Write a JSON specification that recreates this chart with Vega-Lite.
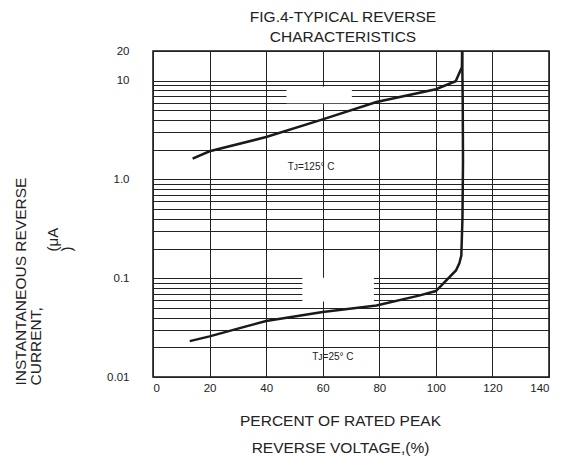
{
  "$schema": "https://vega.github.io/schema/vega-lite/v6.json",
  "width": 396,
  "height": 326,
  "autosize": "none",
  "padding": {"left": 153, "top": 51, "right": 17, "bottom": 79},
  "background": "white",
  "config": {
    "font": "Liberation Sans",
    "view": {"stroke": "#111", "strokeWidth": 1.5},
    "axis": {
      "labelFont": "Liberation Sans",
      "labelFontSize": 11.5,
      "labelColor": "#222",
      "titleFont": "Liberation Sans",
      "titleFontSize": 15.5,
      "titleFontWeight": "normal",
      "titleColor": "#222",
      "gridColor": "#222",
      "gridWidth": 1,
      "gridOpacity": 1,
      "domain": false,
      "ticks": false,
      "labelOverlap": false,
      "labelBound": false
    }
  },
  "title": {
    "text": ["FIG.4-TYPICAL REVERSE", "CHARACTERISTICS"],
    "font": "Liberation Sans",
    "fontSize": 15.5,
    "fontWeight": "normal",
    "color": "#222",
    "lineHeight": 20,
    "anchor": "middle",
    "dx": -8,
    "offset": 0
  },
  "datasets": {
    "gaps": [
      {"pct": 47.2, "pct2": 70.3, "ua": 5.9, "ua2": 8.7},
      {"pct": 52.8, "pct2": 78.1, "ua": 0.058, "ua2": 0.101}
    ],
    "curves": [
      {"tj": "125", "k": 1, "pct": 14, "ua": 1.63},
      {"tj": "125", "k": 2, "pct": 20, "ua": 1.93},
      {"tj": "125", "k": 3, "pct": 40, "ua": 2.69},
      {"tj": "125", "k": 4, "pct": 60, "ua": 4.06},
      {"tj": "125", "k": 5, "pct": 79, "ua": 6.08},
      {"tj": "125", "k": 6, "pct": 100, "ua": 8.2},
      {"tj": "125", "k": 7, "pct": 107, "ua": 9.9},
      {"tj": "125", "k": 8, "pct": 109.2, "ua": 13.7},
      {"tj": "125", "k": 9, "pct": 109.3, "ua": 20},
      {"tj": "25", "k": 1, "pct": 13, "ua": 0.0231},
      {"tj": "25", "k": 2, "pct": 20, "ua": 0.0258},
      {"tj": "25", "k": 3, "pct": 30, "ua": 0.0309},
      {"tj": "25", "k": 4, "pct": 40, "ua": 0.0369},
      {"tj": "25", "k": 5, "pct": 60, "ua": 0.0455},
      {"tj": "25", "k": 6, "pct": 79, "ua": 0.053},
      {"tj": "25", "k": 7, "pct": 94, "ua": 0.0667},
      {"tj": "25", "k": 8, "pct": 100, "ua": 0.0742},
      {"tj": "25", "k": 9, "pct": 107.1, "ua": 0.12},
      {"tj": "25", "k": 10, "pct": 108.3, "ua": 0.142},
      {"tj": "25", "k": 11, "pct": 109, "ua": 0.17},
      {"tj": "25", "k": 12, "pct": 109.4, "ua": 0.4},
      {"tj": "25", "k": 13, "pct": 109.6, "ua": 1.5},
      {"tj": "25", "k": 14, "pct": 109.5, "ua": 6},
      {"tj": "25", "k": 15, "pct": 109.3, "ua": 20}
    ],
    "notes": [
      {"pct": 47.6, "ua": 1.34, "label": "Tᴊ=125° C"},
      {"pct": 56.3, "ua": 0.0159, "label": "Tᴊ=25° C"}
    ],
    "unit": [
      {"pct": -33.5, "ua": 0.187, "label": "(μA"},
      {"pct": -28.6, "ua": 0.187, "label": ")"}
    ]
  },
  "layer": [
    {
      "data": {"name": "gaps"},
      "mark": {"type": "rect", "fill": "white", "stroke": null},
      "encoding": {
        "x": {
          "field": "pct",
          "type": "quantitative",
          "scale": {"domain": [0, 140], "nice": false, "zero": false},
          "axis": {
            "values": [0, 20, 40, 60, 80, 100, 120, 140],
            "grid": true,
            "labelPadding": 5,
            "title": ["PERCENT OF RATED PEAK", "REVERSE VOLTAGE,(%)"],
            "titleX": 187,
            "titleY": 48,
            "titleAlign": "center",
            "titleBaseline": "alphabetic",
            "titleLineHeight": 27
          }
        },
        "x2": {"field": "pct2"},
        "y": {
          "field": "ua",
          "type": "quantitative",
          "scale": {"type": "log", "domain": [0.01, 20], "nice": false},
          "axis": {
            "values": [0.01, 0.02, 0.03, 0.04, 0.05, 0.06, 0.07, 0.08, 0.09, 0.1, 0.2, 0.3, 0.4, 0.5, 0.6, 0.7, 0.8, 0.9, 1, 2, 3, 4, 5, 6, 7, 8, 9, 10, 20],
            "grid": true,
            "labelExpr": "datum.value == 20 ? '20' : datum.value == 10 ? '10' : datum.value == 1 ? '1.0' : datum.value == 0.1 ? '0.1' : datum.value == 0.01 ? '0.01' : ''",
            "labelPadding": 24,
            "title": ["INSTANTANEOUS REVERSE", "CURRENT,"],
            "titleAngle": 270,
            "titleAlign": "left",
            "titleBaseline": "alphabetic",
            "titleX": -128,
            "titleY": 334,
            "titleLineHeight": 15
          }
        },
        "y2": {"field": "ua2"}
      }
    },
    {
      "data": {"name": "curves"},
      "mark": {"type": "line", "color": "#1a1a1a", "strokeWidth": 2.5, "strokeJoin": "miter"},
      "encoding": {
        "x": {"field": "pct", "type": "quantitative"},
        "y": {"field": "ua", "type": "quantitative"},
        "detail": {"field": "tj"},
        "order": {"field": "k"}
      }
    },
    {
      "data": {"name": "notes"},
      "mark": {"type": "text", "align": "left", "baseline": "middle", "fontSize": 10, "font": "Liberation Sans", "color": "#222"},
      "encoding": {
        "x": {"field": "pct", "type": "quantitative"},
        "y": {"field": "ua", "type": "quantitative"},
        "text": {"field": "label"}
      }
    },
    {
      "data": {"name": "unit"},
      "mark": {"type": "text", "align": "left", "baseline": "alphabetic", "angle": 270, "fontSize": 15, "font": "Liberation Sans", "color": "#222"},
      "encoding": {
        "x": {"field": "pct", "type": "quantitative"},
        "y": {"field": "ua", "type": "quantitative"},
        "text": {"field": "label"}
      }
    }
  ]
}
